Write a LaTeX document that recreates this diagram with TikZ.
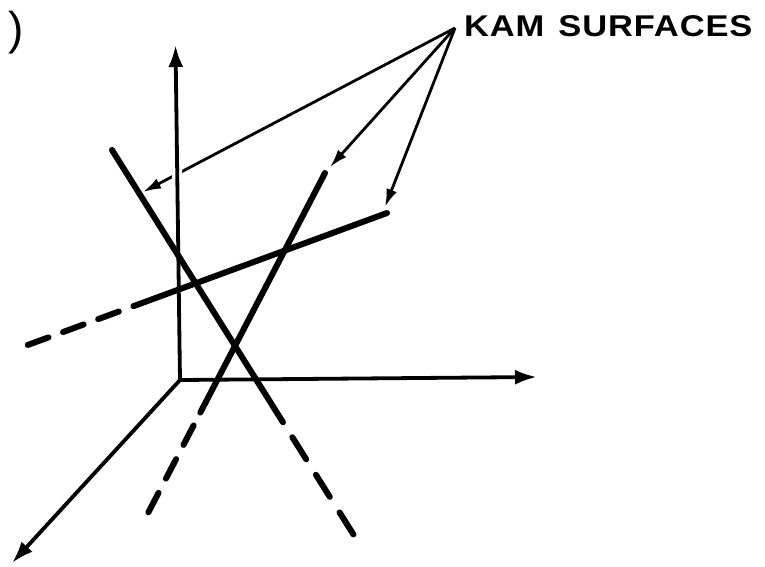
\documentclass[tikz,border=0pt]{standalone}
\usepackage{fontspec}
\setmainfont{Liberation Sans}
\newfontfamily\kamfont[FakeStretch=1.15,LetterSpace=3]{Liberation Sans}
\usetikzlibrary{arrows.meta,calc}
\tikzset{
  surf/.style={line width=6pt,line cap=round},
  axisline/.style={line width=3.8pt,-{Latex[length=22pt,width=15pt]}},
  kamarrow/.style={line width=2.8pt,-{Latex[length=18pt,width=11pt]}},
  lbl/.style={inner sep=0pt,outer sep=0pt}
}
\begin{document}
\begin{tikzpicture}[x=1pt,y=-1pt]
\useasboundingbox (0,0) rectangle (765,566);
% text
\node[lbl,anchor=base west,font=\kamfont\bfseries\fontsize{30}{32}\selectfont] (kam) at (464,36) {KAM\hspace{14pt}SURFACES};
\node[lbl,font=\fontsize{46}{50}\selectfont] (paren) at (16,33) {)};
% points
\coordinate (o) at (180,380);
\coordinate (vtip) at (175.5,45);
\coordinate (htip) at (537,377);
\coordinate (dtip) at (12,563);
\coordinate (k) at (455,28);
\coordinate (t1) at (143,192);
\coordinate (t2) at (330,167);
\coordinate (t3) at (385,207);
% surface A
\coordinate (aS) at (112,150);
\coordinate (aF) at (355,537);
\draw[surf] (aS) -- ($(aF)!135.5pt!(aS)$);
\draw[surf,dash pattern=on 26pt off 18.4pt] ($(aF)!3pt!(aS)$) -- ($(aF)!130pt!(aS)$);
% surface B
\coordinate (bS) at (387,213);
\coordinate (bF) at (25,346);
\draw[surf] (bS) -- ($(bF)!115.5pt!(bS)$);
\draw[surf,dash pattern=on 22pt off 15.5pt] ($(bF)!3pt!(bS)$) -- ($(bF)!110pt!(bS)$);
% surface C
\coordinate (cS) at (325,173);
\coordinate (cF) at (147,515);
\draw[surf] (cS) -- ($(cF)!115.5pt!(cS)$);
\draw[surf,dash pattern=on 22pt off 16pt] ($(cF)!3pt!(cS)$) -- ($(cF)!110pt!(cS)$);
% KAM arrows
\draw[kamarrow] (k) -- (t1);
\draw[kamarrow] (k) -- (t2);
\draw[kamarrow] (k) -- (t3);
% gap where arrow passes behind the vertical axis
\draw[white,line width=10pt] (177.3,162) -- (177.1,188);
% axes
\draw[axisline] (o) -- (vtip);
\draw[axisline] (o) -- (htip);
\draw[axisline] (o) -- (dtip);
\end{tikzpicture}
\end{document}
